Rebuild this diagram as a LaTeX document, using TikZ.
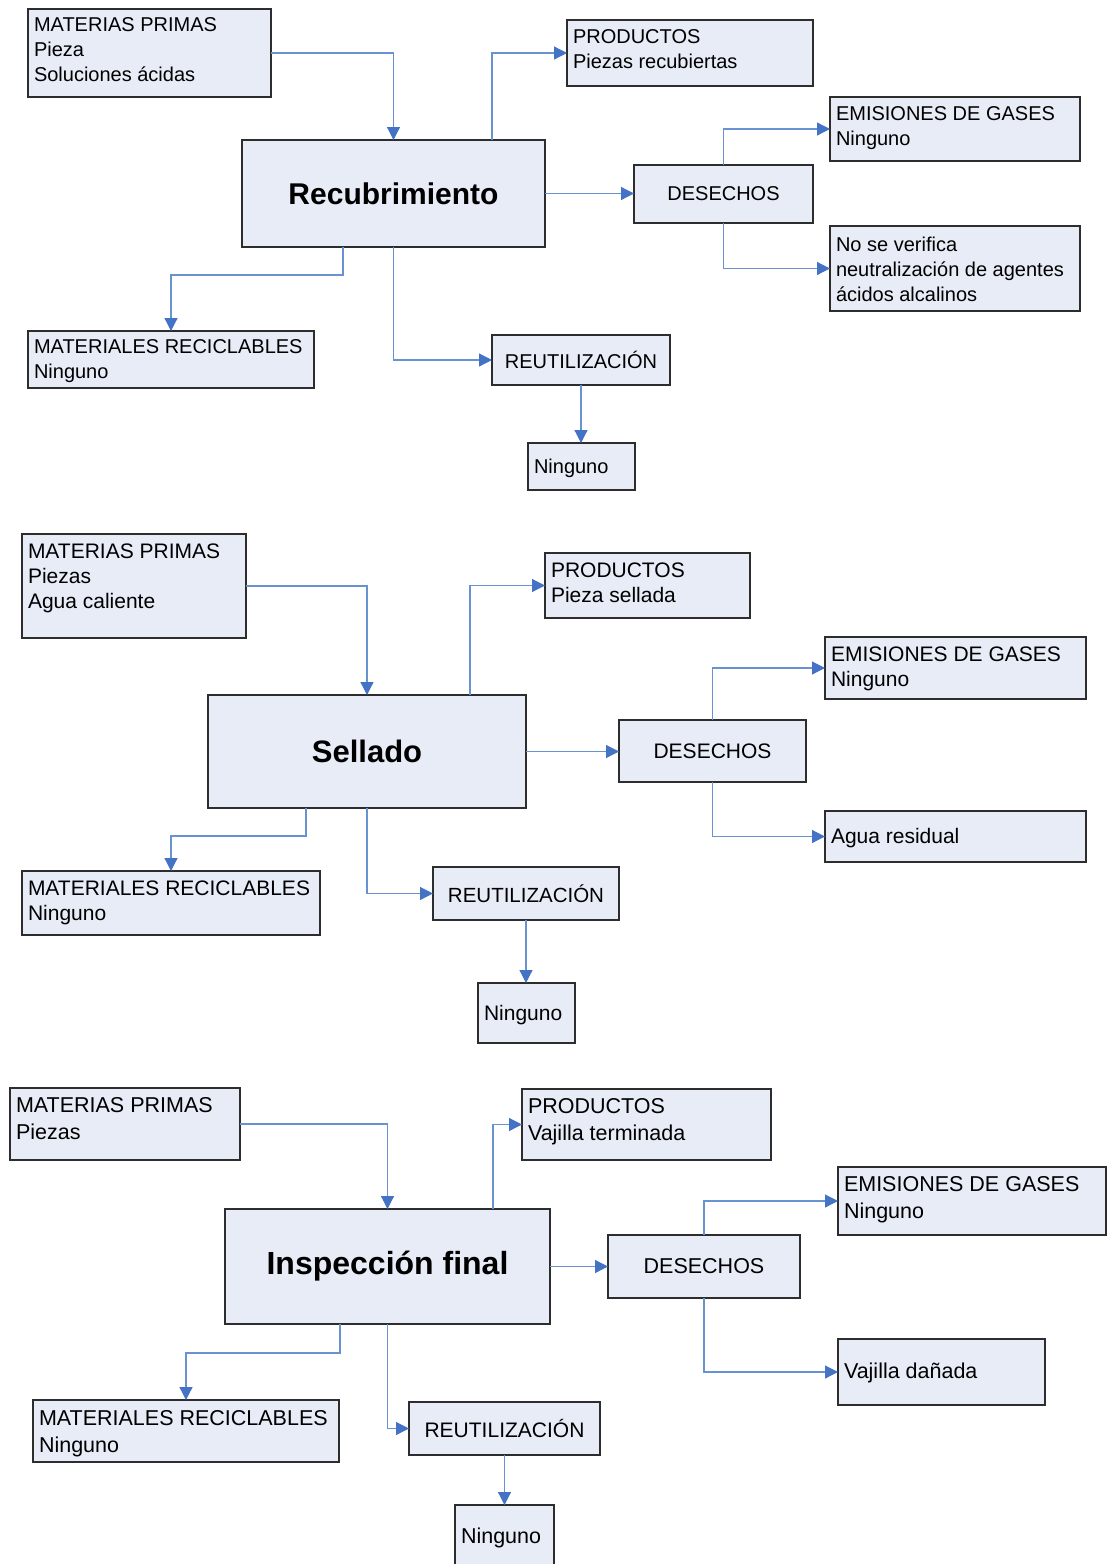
\documentclass[tikz,border=0pt]{standalone}
\usepackage{fontspec}
\setmainfont{Liberation Sans}
\usetikzlibrary{arrows.meta,calc}

\definecolor{boxfill}{RGB}{231,236,247}
\definecolor{boxline}{RGB}{45,45,45}
\definecolor{linkblue}{RGB}{104,146,208}
\definecolor{tipblue}{RGB}{68,114,196}

\tikzset{
  box/.style={draw=boxline, line width=1.2pt, fill=boxfill, inner sep=0pt, outer sep=0pt},
  conn/.style={draw=linkblue, line width=1.2pt,
    -{Triangle[length=13pt,width=13pt,color=tipblue]}},
}

% box with left-aligned text hanging from the top:
% name, x1, y1, x2, y2, font size, baseline skip, top padding, text
\newcommand\lbox[9]{%
  \pgfmathsetmacro\bxw{#4-#2}%
  \pgfmathsetmacro\bxh{#5-#3}%
  \node[box, anchor=north west] (#1) at (#2,#3)
    {\parbox[c][\bxh pt][t]{\bxw pt}{\fontsize{#6}{#7}\selectfont
      \leftskip=6pt\relax\vspace*{#8pt}\strut#9}};}

% box with centred text: name, x1, y1, x2, y2, font, text
\newcommand\cbox[7]{%
  \pgfmathsetmacro\bxw{#4-#2}%
  \pgfmathsetmacro\bxh{#5-#3}%
  \node[box, minimum width=\bxw pt, minimum height=\bxh pt]
    (#1) at ({(#2+#4)/2},{(#3+#5)/2}) {#6#7};}

\begin{document}
\begin{tikzpicture}[x=1pt,y=-1pt]
\useasboundingbox (0,0) rectangle (1107,1564);
\clip (0,0) rectangle (1107,1564);

% ---------- Recubrimiento ----------
\lbox{mp1}{28}{9}{271}{97}{20}{25}{4.5}{MATERIAS PRIMAS\\Pieza\\Soluciones ácidas}
\cbox{rec}{242}{140}{545}{247}{\fontsize{30}{36}\selectfont\bfseries}{Recubrimiento}
\lbox{pr1}{567}{20}{813}{86}{20}{25}{5.5}{PRODUCTOS\\Piezas recubiertas}
\cbox{de1}{634}{165}{813}{223}{\fontsize{20}{25}\selectfont}{DESECHOS}
\lbox{em1}{830}{97}{1080}{161}{20}{25}{5.5}{EMISIONES DE GASES\\Ninguno}
\lbox{ns1}{830}{226}{1080}{311}{20}{25}{7.5}{No se verifica\\neutralización de agentes\\ácidos alcalinos}
\lbox{mr1}{28}{331}{314}{388}{20}{25}{4.5}{MATERIALES RECICLABLES\\Ninguno}
\cbox{re1}{492}{335}{670}{385}{\fontsize{20}{25}\selectfont}{REUTILIZACIÓN}
\lbox{ni1}{528}{443}{635}{490}{20}{25}{12.5}{Ninguno}

\draw[conn] (mp1.east) -| (rec.north);
\draw[conn] ([xshift=98.5pt]rec.north) |- (pr1.west);
\draw[conn] (rec.east) -- (rec.east -| de1.west);
\draw[conn] (de1.north) |- (em1.west);
\draw[conn] (de1.south) |- (ns1.west);
\draw[conn] ([xshift=-50.5pt]rec.south) -- ++(0,28) -| (mr1.north);
\draw[conn] (rec.south) |- (re1.west);
\draw[conn] (re1.south) -- (re1.south |- ni1.north);

% ---------- Sellado ----------
\lbox{mp2}{22}{534}{246}{638}{21}{25}{7}{MATERIAS PRIMAS\\Piezas\\Agua caliente}
\cbox{sel}{208}{695}{526}{808}{\fontsize{31}{37}\selectfont\bfseries}{Sellado}
\lbox{pr2}{545}{553}{750}{618}{21}{25}{7}{PRODUCTOS\\Pieza sellada}
\cbox{de2}{619}{720}{806}{782}{\fontsize{21}{25}\selectfont}{DESECHOS}
\lbox{em2}{825}{637}{1086}{699}{21}{25}{7}{EMISIONES DE GASES\\Ninguno}
\lbox{ag2}{825}{811}{1086}{862}{21}{25}{15}{Agua residual}
\lbox{mr2}{22}{871}{320}{935}{21}{25}{7}{MATERIALES RECICLABLES\\Ninguno}
\cbox{re2}{433}{867}{619}{920}{\fontsize{20.5}{25}\selectfont}{REUTILIZACIÓN}
\lbox{ni2}{478}{983}{575}{1043}{21}{25}{20}{Ninguno}

\draw[conn] (mp2.east) -| (sel.north);
\draw[conn] ([xshift=103pt]sel.north) |- (pr2.west);
\draw[conn] (sel.east) -- (sel.east -| de2.west);
\draw[conn] (de2.north) |- (em2.west);
\draw[conn] (de2.south) |- (ag2.west);
\draw[conn] ([xshift=-61pt]sel.south) -- ++(0,28) -| (mr2.north);
\draw[conn] (sel.south) |- (re2.west);
\draw[conn] (re2.south) -- (re2.south |- ni2.north);

% ---------- Inspección final ----------
\lbox{mp3}{10}{1088}{240}{1160}{21.5}{27}{6}{MATERIAS PRIMAS\\Piezas}
\cbox{ins}{225}{1209}{550}{1324}{\fontsize{32}{38}\selectfont\bfseries}{Inspección final}
\lbox{pr3}{522}{1089}{771}{1160}{21.5}{27}{6}{PRODUCTOS\\Vajilla terminada}
\cbox{de3}{608}{1235}{800}{1298}{\fontsize{21.5}{27}\selectfont}{DESECHOS}
\lbox{em3}{838}{1167}{1106}{1235}{21.5}{27}{6}{EMISIONES DE GASES\\Ninguno}
\lbox{vd3}{838}{1339}{1045}{1405}{21.5}{27}{21}{Vajilla dañada}
\lbox{mr3}{33}{1400}{339}{1462}{21.5}{27}{7}{MATERIALES RECICLABLES\\Ninguno}
\cbox{re3}{409}{1402}{600}{1455}{\fontsize{21}{27}\selectfont}{REUTILIZACIÓN}
\lbox{ni3}{455}{1505}{554}{1590}{21.5}{27}{20}{Ninguno}

\draw[conn] (mp3.east) -| (ins.north);
\draw[conn] ([xshift=105.5pt]ins.north) |- (pr3.west);
\draw[conn] (ins.east) -- (ins.east -| de3.west);
\draw[conn] (de3.north) |- (em3.west);
\draw[conn] (de3.south) |- (vd3.west);
\draw[conn] ([xshift=-47.5pt]ins.south) -- ++(0,29) -| (mr3.north);
\draw[conn] (ins.south) |- (re3.west);
\draw[conn] (re3.south) -- (re3.south |- ni3.north);
\end{tikzpicture}
\end{document}
